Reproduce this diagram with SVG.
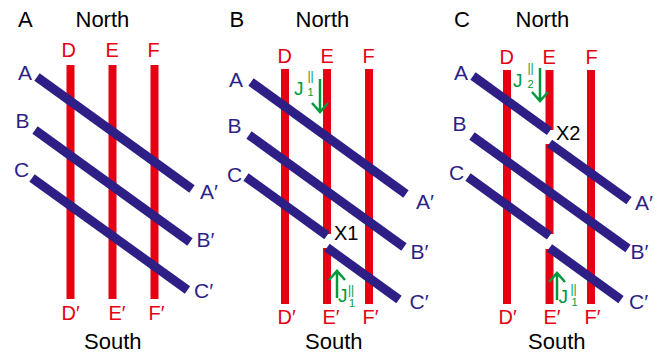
<svg xmlns="http://www.w3.org/2000/svg" width="671" height="354" viewBox="0 0 671 354">
<style>
.t{font-family:"Liberation Sans",Arial,sans-serif;}
.k{fill:#000;font-size:22px;}
.r{fill:#e60012;font-size:20px;}
.b{fill:#2e1f86;font-size:21px;}
.g{fill:#009a3e;}
.j{font-size:19px;}
.p{font-size:12px;}
.s{font-size:11px;}
.x{fill:#000;font-size:20px;}
.bar{stroke:#e60012;stroke-width:8;fill:none;}
.fl{stroke:#2e1f86;stroke-width:9;fill:none;stroke-linecap:butt;}
.ar{stroke:#009a3e;stroke-width:2.5;fill:none;}
</style>
<rect width="671" height="354" fill="#fff"/>

<!-- Panel A -->
<g id="panelA">
  <g id="A-bars">
    <line class="bar" x1="70.5" y1="65" x2="70.5" y2="299"/>
    <line class="bar" x1="112.5" y1="65" x2="112.5" y2="299"/>
    <line class="bar" x1="154.5" y1="65" x2="154.5" y2="299"/>
  </g>
  <g id="A-lines">
    <line class="fl" x1="37" y1="77" x2="192" y2="189"/>
    <line class="fl" x1="35" y1="130" x2="190" y2="242"/>
    <line class="fl" x1="32" y1="178" x2="187.5" y2="290"/>
  </g>
  <g id="A-text" class="t">
    <text class="k" x="18" y="27">A</text>
    <text class="k" x="75.5" y="27">North</text>
    <text class="k" x="84" y="349">South</text>
    <text class="r" x="61.5" y="57">D</text>
    <text class="r" x="105.5" y="57">E</text>
    <text class="r" x="147.5" y="57">F</text>
    <text class="r" x="61.5" y="320">D′</text>
    <text class="r" x="108.5" y="320">E′</text>
    <text class="r" x="148.5" y="320">F′</text>
    <text class="b" x="18" y="80">A</text>
    <text class="b" x="15.5" y="128">B</text>
    <text class="b" x="14" y="177">C</text>
    <text class="b" x="200" y="199">A′</text>
    <text class="b" x="196.5" y="247">B′</text>
    <text class="b" x="194" y="298">C′</text>
  </g>
</g>

<!-- Panel B -->
<g id="panelB">
  <g id="B-bars">
    <line class="bar" x1="285" y1="69" x2="285" y2="304"/>
    <line class="bar" x1="327" y1="69" x2="327" y2="234"/>
    <line class="bar" x1="327" y1="248" x2="327" y2="304"/>
    <line class="bar" x1="369" y1="69" x2="369" y2="304"/>
  </g>
  <g id="B-lines">
    <line class="fl" x1="251" y1="82" x2="406" y2="194"/>
    <line class="fl" x1="249" y1="135" x2="404" y2="247"/>
    <line class="fl" x1="246" y1="177" x2="327" y2="235.5"/>
    <line class="fl" x1="327" y1="247.5" x2="399" y2="299.5"/>
  </g>
  <g id="B-arrows">
    <path class="ar" d="M320 79V112M312 103L320 112L328 103"/>
    <path class="ar" d="M337 298V271M329 280L337 271L345 280"/>
  </g>
  <g id="B-text" class="t">
    <text class="k" x="229.5" y="27">B</text>
    <text class="k" x="295.5" y="27">North</text>
    <text class="k" x="305" y="349">South</text>
    <text class="r" x="277.5" y="63">D</text>
    <text class="r" x="320.5" y="63">E</text>
    <text class="r" x="362.5" y="63">F</text>
    <text class="r" x="277.5" y="324">D′</text>
    <text class="r" x="322.5" y="324">E′</text>
    <text class="r" x="362.5" y="324">F′</text>
    <text class="b" x="229" y="87">A</text>
    <text class="b" x="227.5" y="133">B</text>
    <text class="b" x="227" y="182">C</text>
    <text class="b" x="416" y="209">A′</text>
    <text class="b" x="410.5" y="259">B′</text>
    <text class="b" x="409.5" y="309">C′</text>
    <text class="x" x="334" y="240">X1</text>
    <text class="g j" x="294" y="95">J</text>
    <text class="g p" x="307.5" y="79.5">||</text>
    <text class="g s" x="307.5" y="95.5">1</text>
    <text class="g j" x="338" y="302">J</text>
    <text class="g p" x="348" y="293.5">||</text>
    <text class="g s" x="349" y="306.5">1</text>
  </g>
</g>

<!-- Panel C -->
<g id="panelC">
  <g id="C-bars">
    <line class="bar" x1="507" y1="70" x2="507" y2="304"/>
    <line class="bar" x1="549.5" y1="70" x2="549.5" y2="130"/>
    <line class="bar" x1="549.5" y1="144" x2="549.5" y2="234"/>
    <line class="bar" x1="549.5" y1="249" x2="549.5" y2="304"/>
    <line class="bar" x1="591" y1="70" x2="591" y2="304"/>
  </g>
  <g id="C-lines">
    <line class="fl" x1="473" y1="76" x2="549.5" y2="131.3"/>
    <line class="fl" x1="549.5" y1="143.3" x2="629" y2="200.7"/>
    <line class="fl" x1="472" y1="136" x2="628" y2="248.5"/>
    <line class="fl" x1="468" y1="177" x2="549.5" y2="235.9"/>
    <line class="fl" x1="549.5" y1="247.9" x2="621" y2="299.6"/>
  </g>
  <g id="C-arrows">
    <path class="ar" d="M540 68V101M532 92L540 101L548 92"/>
    <path class="ar" d="M557 300V273M549 282L557 273L565 282"/>
  </g>
  <g id="C-text" class="t">
    <text class="k" x="454" y="27">C</text>
    <text class="k" x="515.5" y="27">North</text>
    <text class="k" x="528" y="349">South</text>
    <text class="r" x="499.5" y="64">D</text>
    <text class="r" x="542.5" y="64">E</text>
    <text class="r" x="585.5" y="64">F</text>
    <text class="r" x="498.5" y="324">D′</text>
    <text class="r" x="543.5" y="324">E′</text>
    <text class="r" x="584.5" y="324">F′</text>
    <text class="b" x="454" y="80">A</text>
    <text class="b" x="452.5" y="131">B</text>
    <text class="b" x="449" y="180">C</text>
    <text class="b" x="635" y="210">A′</text>
    <text class="b" x="630.5" y="259">B′</text>
    <text class="b" x="629" y="309">C′</text>
    <text class="x" x="556" y="140">X2</text>
    <text class="g j" x="513" y="87">J</text>
    <text class="g p" x="527.5" y="71.5">||</text>
    <text class="g s" x="527.5" y="87.5">2</text>
    <text class="g j" x="558.5" y="303">J</text>
    <text class="g p" x="570.5" y="293">||</text>
    <text class="g s" x="571.5" y="306">1</text>
  </g>
</g>
</svg>
